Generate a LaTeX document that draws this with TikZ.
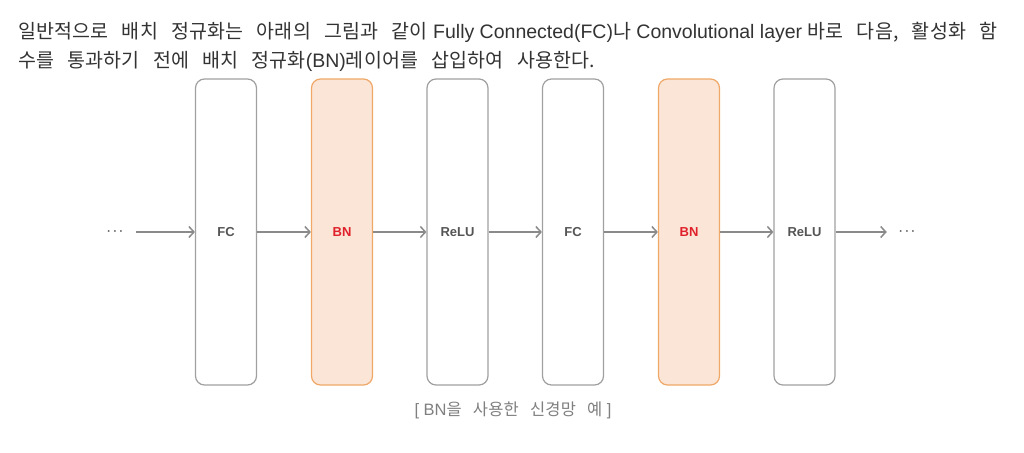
\documentclass[tikz,border=0pt]{standalone}
\usepackage{fontspec}
\setmainfont{Liberation Sans}
\newfontfamily\kr[Scale=1.0,LetterSpace=1,WordSpace=2.9]{Noto Sans CJK KR}
\usetikzlibrary{arrows.meta}
\definecolor{txt}{HTML}{333333}
\definecolor{boxline}{HTML}{A0A0A0}
\definecolor{arrcol}{HTML}{8A8A8A}
\definecolor{bnfill}{HTML}{FBE5D6}
\definecolor{bnline}{HTML}{F0A868}
\definecolor{bnred}{HTML}{E0202A}
\definecolor{lbl}{HTML}{555555}
\definecolor{cap}{HTML}{808080}
\tikzset{
  layer/.style={draw=boxline, line width=1.2pt, rounded corners=9pt, fill=white,
    minimum width=61pt, minimum height=306pt, inner sep=0pt,
    font=\fontsize{13}{14}\selectfont\bfseries, text=lbl},
  bnlayer/.style={layer, draw=bnline, fill=bnfill, text=bnred},
  arr/.style={draw=arrcol, line width=1.5pt, -{Straight Barb[length=5pt,width=11pt,line width=1.5pt]}},
  dots/.style={inner sep=0pt, text=lbl, font=\fontsize{11.5}{12}\selectfont\boldmath},
  para/.style={anchor=base west, inner sep=0pt, text=txt, font=\fontsize{19.5}{22}\selectfont}
}
\begin{document}
\begin{tikzpicture}[x=1pt,y=-1pt]
\useasboundingbox[fill=white] (0,0) rectangle (1024,452);
\node[para] (l1) at (18,38.5) {{\kr 일반적으로 배치 정규화는 아래의 그림과 같이} Fully Connected(FC){\kr 나} Convolutional layer {\kr 바로 다음, 활성화 함}};
\node[para] (l2) at (18,67.5) {{\kr 수를 통과하기 전에 배치 정규화}(BN){\kr 레이어를 삽입하여 사용한다.}};
\node[layer] (fc1) at (226,232) {FC};
\node[bnlayer] (bn1) at (342,232) {BN};
\node[layer] (re1) at (457.5,232) {ReLU};
\node[layer] (fc2) at (573,232) {FC};
\node[bnlayer] (bn2) at (689,232) {BN};
\node[layer] (re2) at (804.5,232) {ReLU};
\node[dots] (dl) at (115,232) {$\cdots$};
\node[dots] (dr) at (907,232) {$\cdots$};
\draw[arr, shorten <=13pt] (dl.east) -- (fc1.west);
\draw[arr] (fc1) -- (bn1);
\draw[arr] (bn1) -- (re1);
\draw[arr] (re1) -- (fc2);
\draw[arr] (fc2) -- (bn2);
\draw[arr] (bn2) -- (re2);
\draw[arr, shorten >=12pt] (re2.east) -- (dr.west);
\node[text=cap, font=\fontsize{16.5}{18}\selectfont, inner sep=0pt] (cp) at (513,410) {[ BN{\kr 을 사용한 신경망 예} ]};
\end{tikzpicture}
\end{document}
